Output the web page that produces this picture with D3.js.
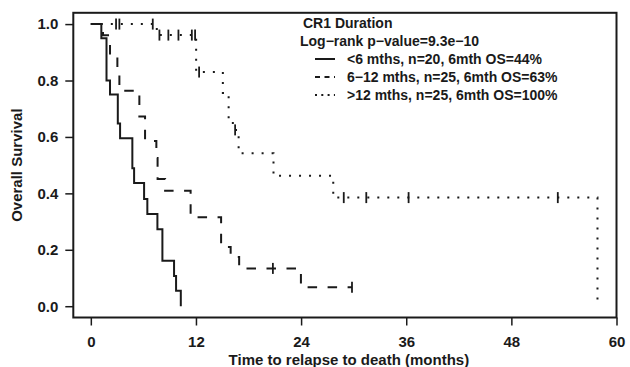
<!DOCTYPE html>
<html>
<head>
<meta charset="utf-8">
<script src="https://cdn.jsdelivr.net/npm/d3@7/dist/d3.min.js"></script>
<style>
  body { margin: 0; background: #fff; }
  svg text { font-family: "Liberation Sans", Arial, Helvetica, sans-serif; font-weight: bold; fill: #1a1a1a; }
</style>
</head>
<body>
<svg id="chart" width="630" height="367"></svg>
<script>
// Kaplan-Meier steps: event time (months) and survival just after it
const shortTimes   = [1.2, 1.79, 2.19, 3.08, 3.34, 4.74, 4.94, 6.08, 6.45, 7.6, 8.17, 9.5, 9.73, 10.27];
const shortSurv    = [0.95, 0.80, 0.75, 0.648, 0.595, 0.489, 0.437, 0.38, 0.327, 0.273, 0.161, 0.107, 0.055, 0];
const shortCensor  = [];

const midTimes     = [1.39, 2.19, 3.03, 3.26, 5.54, 6.19, 7.48, 7.62, 8.48, 11.39, 14.87, 15.96, 16.93, 23.98];
const midSurv      = [0.96, 0.882, 0.842, 0.764, 0.672, 0.586, 0.525, 0.451, 0.409, 0.315, 0.21, 0.174, 0.134, 0.067];
const midCensor    = [20.78, 29.81];

const longTimes    = [7.53, 12.02, 15.07, 15.73, 16.21, 16.87, 20.85, 27.67, 57.83];
const longSurv     = [0.961, 0.83, 0.756, 0.66, 0.625, 0.542, 0.462, 0.385, 0];
const longCensor   = [2.88, 3.26, 7.07, 7.83, 8.85, 10.0, 11.53, 11.9, 12.36, 16.47, 28.87, 31.44, 36.27, 53.3];

const xTicks = [0, 12, 24, 36, 48, 60];
const yTicks = [0, 0.2, 0.4, 0.6, 0.8, 1.0];

const legendTitle = 'CR1 Duration';
const legendTest  = 'Log\u2212rank p\u2212value=9.3e\u221210';
const legendLabels = [
    '<6 mths, n=20, 6mth OS=44%',
    '6\u221212 mths, n=25, 6mth OS=63%',
    '>12 mths, n=25, 6mth OS=100%'
];

const ink = '#1a1a1a';

const svg = d3.select('#chart');

const x = d3.scaleLinear().domain([-2, 60]).range([73.3, 616.5]);
const y = d3.scaleLinear().domain([-0.04, 1.04]).range([317.5, 12.8]);

// frame
svg.append('rect')
    .attr('x', x(-2)).attr('y', y(1.04))
    .attr('width', x(60) - x(-2)).attr('height', y(-0.04) - y(1.04))
    .attr('fill', 'none').attr('stroke', ink).attr('stroke-width', 2);

// axes
const xAxis = svg.append('g')
    .attr('transform', 'translate(0,' + y(-0.04) + ')')
    .call(d3.axisBottom(x).tickValues(xTicks).tickSize(8).tickPadding(11).tickFormat(d3.format('d')));
const yAxis = svg.append('g')
    .attr('transform', 'translate(' + x(-2) + ',0)')
    .call(d3.axisLeft(y).tickValues(yTicks).tickSize(8).tickPadding(7).tickFormat(d3.format('.1f')));

[xAxis, yAxis].forEach(function(g) {
    g.select('.domain').remove();
    g.selectAll('line').attr('stroke', ink).attr('stroke-width', 1.5);
    g.selectAll('text').style('font-size', '15px').attr('fill', ink);
});

svg.append('text')
    .attr('x', (x(-2) + x(60)) / 2 + 4).attr('y', 365)
    .attr('text-anchor', 'middle')
    .style('font-size', '15px')
    .text('Time to relapse to death (months)');

svg.append('text')
    .attr('transform', 'translate(22,' + y(0.5) + ') rotate(-90)')
    .attr('text-anchor', 'middle')
    .style('font-size', '15px')
    .text('Overall Survival');

// curves
function stepPoints(times, surv, censor) {
    let pts = [[0, 1]];
    times.forEach(function(t, i) { pts.push([t, surv[i]]); });
    let lastC = censor.length ? d3.max(censor) : 0;
    if (lastC > times[times.length - 1]) pts.push([lastC, surv[surv.length - 1]]);
    return pts;
}

function survAt(times, surv, t) {
    let s = 1;
    times.forEach(function(tt, i) { if (tt <= t) s = surv[i]; });
    return s;
}

const line = d3.line()
    .x(function(d) { return x(d[0]); })
    .y(function(d) { return y(d[1]); })
    .curve(d3.curveStepAfter);

const groups = [
    { times: shortTimes, surv: shortSurv, censor: shortCensor, dash: null,        width: 2 },
    { times: midTimes,   surv: midSurv,   censor: midCensor,   dash: '9.5,10.5',  width: 2 },
    { times: longTimes,  surv: longSurv,  censor: longCensor,  dash: '2,8',       width: 2 }
];

groups.forEach(function(g) {
    svg.append('path')
        .datum(stepPoints(g.times, g.surv, g.censor))
        .attr('d', line)
        .attr('fill', 'none')
        .attr('stroke', ink)
        .attr('stroke-width', g.width)
        .attr('stroke-dasharray', g.dash);

    svg.append('g').selectAll('line')
        .data(g.censor)
        .enter().append('line')
        .attr('x1', function(d) { return x(d); })
        .attr('x2', function(d) { return x(d); })
        .attr('y1', function(d) { return y(survAt(g.times, g.surv, d)) - 5.5; })
        .attr('y2', function(d) { return y(survAt(g.times, g.surv, d)) + 5.5; })
        .attr('stroke', ink)
        .attr('stroke-width', 1.8);
});

// legend
const lg = svg.append('g').style('font-size', '14px');
lg.append('text').attr('x', 303).attr('y', 28).text(legendTitle);
lg.append('text').attr('x', 300).attr('y', 46).text(legendTest);

const legendDash = [null, '5,4.5', '2,4.3'];
legendLabels.forEach(function(label, i) {
    let ly = 64 + i * 18;
    lg.append('line')
        .attr('x1', 315).attr('x2', 335)
        .attr('y1', ly - 5).attr('y2', ly - 5)
        .attr('stroke', ink).attr('stroke-width', 2)
        .attr('stroke-dasharray', legendDash[i]);
    lg.append('text').attr('x', 347).attr('y', ly).text(label);
});
</script>
</body>
</html>
